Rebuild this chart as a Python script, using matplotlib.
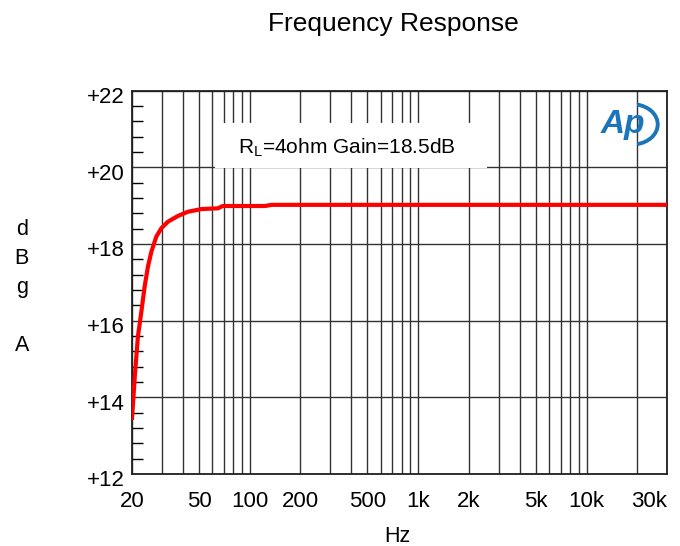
import matplotlib
matplotlib.use("Agg")
import matplotlib.pyplot as plt
from matplotlib.patches import Rectangle, Arc
from matplotlib.ticker import FixedLocator, LogLocator, NullFormatter
from matplotlib.transforms import ScaledTranslation

plt.rcParams["font.family"] = ["Liberation Sans", "DejaVu Sans"]
plt.rcParams["mathtext.fontset"] = "custom"
plt.rcParams["mathtext.rm"] = "Liberation Sans"

# data (Hz, dB)
freq = [20, 20.8, 21.7, 22.7, 23.8, 24.9, 26.1, 27.9, 29.9, 32.7, 37.5,
        43, 51.7, 64.9, 69, 123, 135, 1000, 10000, 30000]
gain = [13.41, 14.54, 15.58, 16.2, 16.89, 17.41, 17.8, 18.19, 18.41, 18.58,
        18.73, 18.84, 18.91, 18.93, 18.99, 18.99, 19.02, 19.02, 19.02, 19.02]

xticks = [20, 50, 100, 200, 500, 1000, 2000, 5000, 10000, 30000]
xlabels = ["20", "50", "100", "200", "500", "1k", "2k", "5k", "10k", "30k"]
yticks = [12, 14, 16, 18, 20, 22]
ylabels = ["+{}".format(v) for v in yticks]

fig = plt.figure(figsize=(6.8, 5.46), dpi=100)
ax = fig.add_axes([0.194, 0.132, 0.787, 0.702])

ax.plot(freq, gain, color="#ff0000", lw=3, zorder=5, solid_capstyle="butt")

ax.set_xscale("log")
ax.set_xlim(20, 30000)
ax.set_ylim(12, 22)

# grid
ax.xaxis.set_major_locator(FixedLocator(xticks))
ax.set_xticklabels(xlabels)
ax.xaxis.set_minor_locator(LogLocator(base=10, subs=range(1, 10), numticks=50))
ax.xaxis.set_minor_formatter(NullFormatter())
ax.set_yticks(yticks)
ax.set_yticklabels(ylabels)
ax.yaxis.set_minor_locator(FixedLocator([12 + 0.4 * i for i in range(26)]))
ax.grid(True, axis="x", which="both", color="#333333", lw=1)
ax.grid(True, axis="y", which="major", color="#333333", lw=1)

ax.tick_params(axis="x", which="both", length=0, labelsize=16, pad=12)
ax.tick_params(axis="y", which="major", length=0, labelsize=16, pad=5)
ax.tick_params(axis="y", which="minor", direction="in", length=8, width=1,
               left=True, right=False)
for lbl in ax.get_xticklabels():
    if lbl.get_text() == "30k":
        lbl.set_horizontalalignment("right")
shift = ScaledTranslation(0, -0.045, fig.dpi_scale_trans)
for lbl in ax.get_yticklabels():
    lbl.set_transform(lbl.get_transform() + shift)

for s in ax.spines.values():
    s.set_linewidth(1.3)
    s.set_color("#202020")

# annotation box
ax.add_patch(Rectangle((0.155, 0.798), 0.509, 0.118, transform=ax.transAxes,
                       facecolor="white", edgecolor="none", zorder=3))
ax.text(0.401, 0.852, r"R$_\mathrm{L}$=4ohm Gain=18.5dB", transform=ax.transAxes,
        ha="center", va="center", fontsize=15, zorder=4)

# Ap logo
ax.text(0.918, 0.912, "Ap", transform=ax.transAxes, ha="center", va="center",
        fontsize=24, fontstyle="italic", fontweight="bold", color="#1b75bb",
        zorder=6)
ax.add_patch(Arc((0.935, 0.912), 0.095, 0.105, theta1=-80, theta2=80,
                 transform=ax.transAxes, color="#1b75bb", lw=2.8, zorder=6))

fig.text(0.579, 0.956, "Frequency Response", ha="center", va="center", fontsize=19)
fig.text(0.585, 0.017, "Hz", ha="center", va="center", fontsize=15.5)
fig.text(0.032, 0.474, "d\nB\ng\n\nA", ha="center", va="center", fontsize=15.5,
         linespacing=1.5)

fig.savefig("out.png", dpi=100)
